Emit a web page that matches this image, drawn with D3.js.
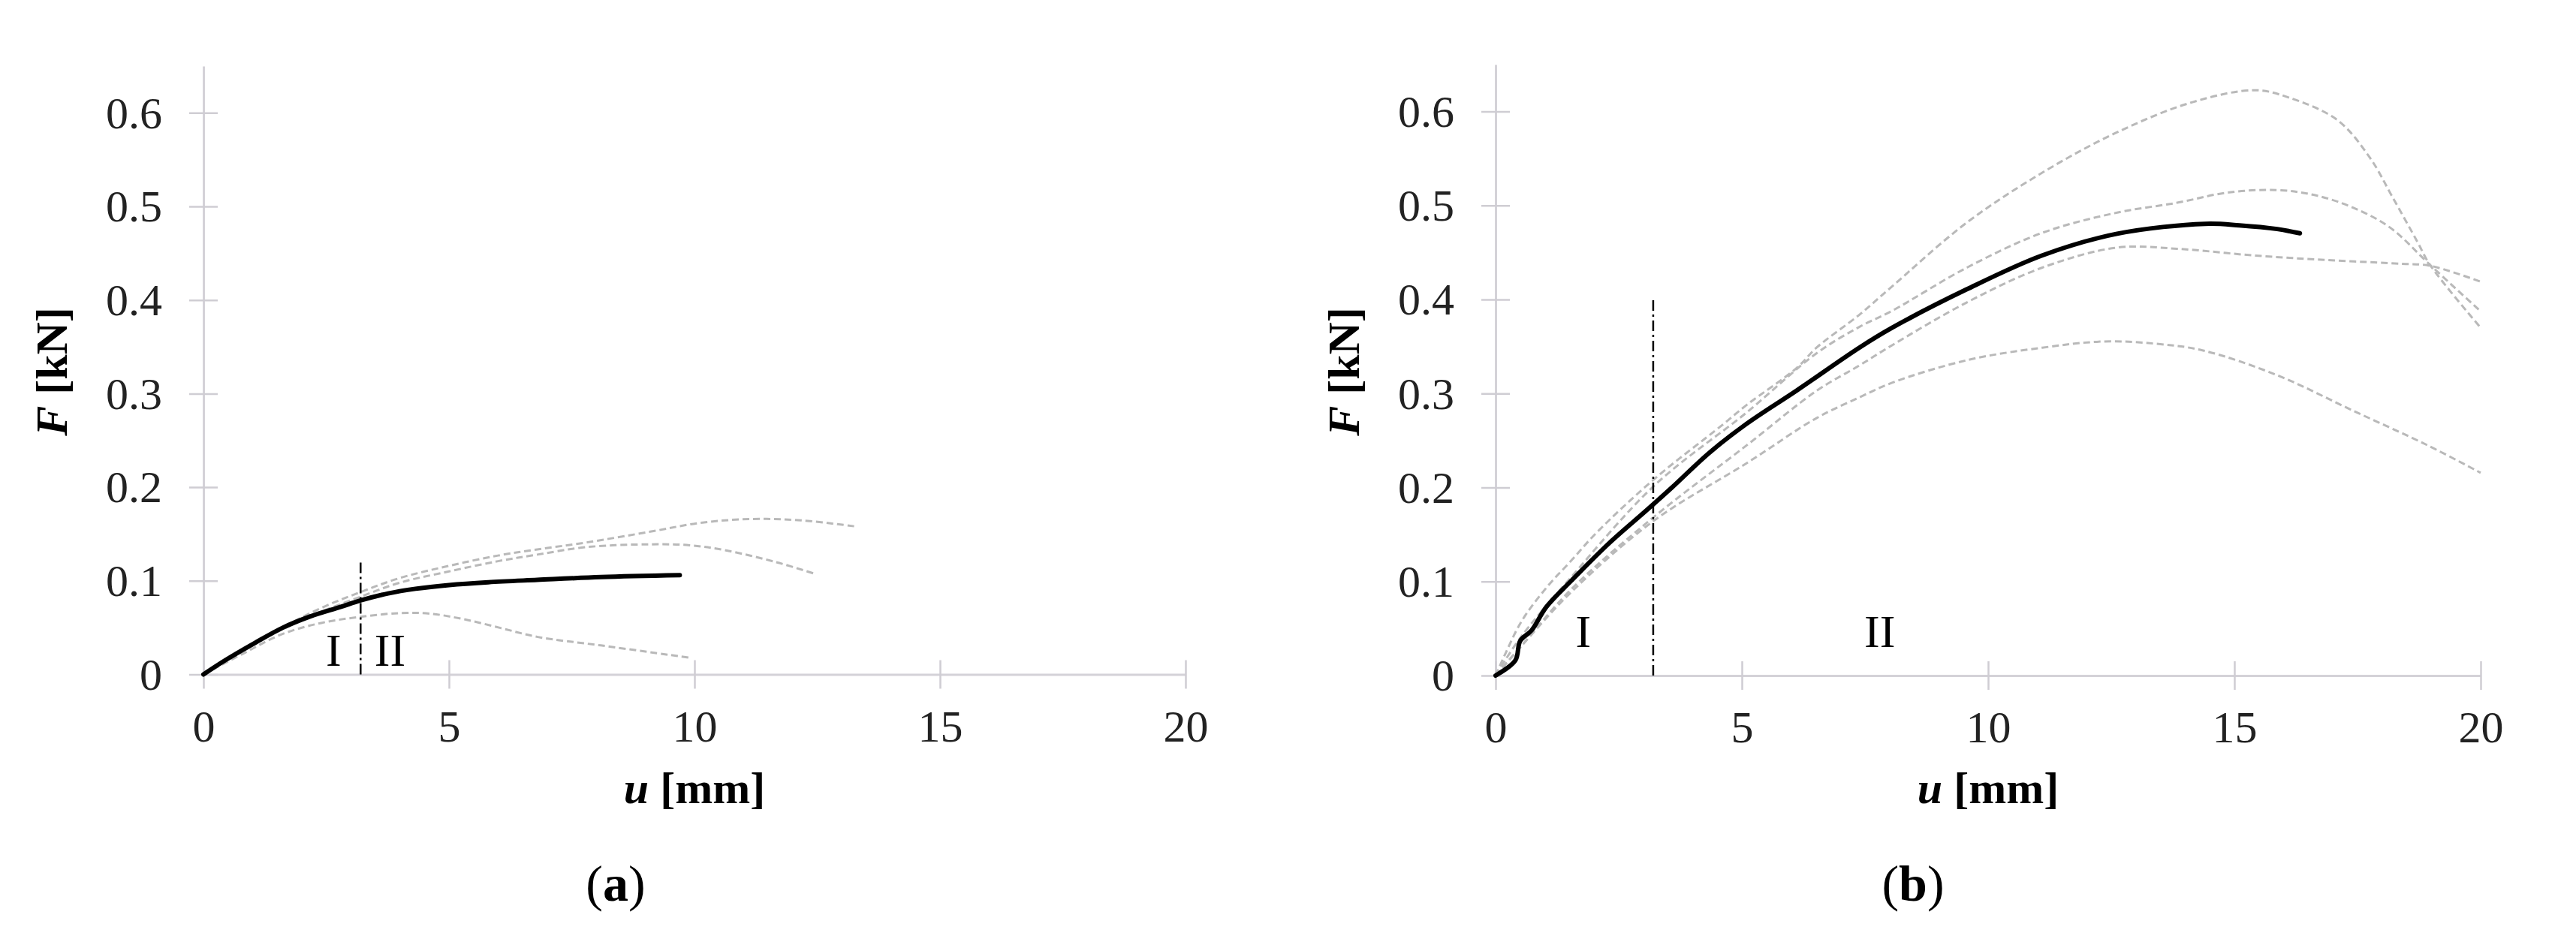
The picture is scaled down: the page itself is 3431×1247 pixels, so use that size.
<!DOCTYPE html>
<html>
<head>
<meta charset="utf-8">
<style>
    body {
        margin: 0;
        background: #fff;
    }

    svg {
        display: block;
        font-family: "Liberation Serif", "Times New Roman", serif;
    }

    .axis .domain {
        stroke: #d4d2d8;
        stroke-width: 3;
    }

    .axis .tick line {
        stroke: #cfcdd3;
        stroke-width: 2.5;
    }

    .axis .tick text {
        font-size: 60px;
        fill: #222;
        font-family: "Liberation Serif", "Times New Roman", serif;
    }

    .title {
        font-size: 60px;
        font-weight: bold;
    }

    .zone {
        font-size: 62px;
    }

    .tag {
        font-size: 68px;
    }

    .fit {
        fill: none;
        stroke: #b9b9b9;
        stroke-width: 3;
        stroke-dasharray: 9 5;
    }

    .test {
        fill: none;
        stroke: #000;
        stroke-width: 6;
        stroke-linejoin: round;
        stroke-linecap: round;
    }

    .split {
        stroke: #000;
        stroke-width: 2.5;
        stroke-dasharray: 14 5 3 5;
    }
</style>
</head>
<body>
<svg width="3431" height="1247"></svg>

<script src="https://cdn.jsdelivr.net/npm/d3@7"></script>
<script>
    // axis ticks
    let uTicks = [0, 5, 10, 15, 20];
    let uTickLabels = ["0", "5", "10", "15", "20"];
    let fTicks = [0, 0.1, 0.2, 0.3, 0.4, 0.5, 0.6];
    let fTickLabels = ["0", "0.1", "0.2", "0.3", "0.4", "0.5", "0.6"];

    // (a) measured curve and the three dashed curves, [u mm, F kN]
    let aMeasured = [[0, 0], [0.44, 0.015], [1.06, 0.034], [1.62, 0.05], [2.18, 0.062], [2.79, 0.072],
        [3.2, 0.079], [3.76, 0.0865], [4.32, 0.0915], [5.0, 0.0955], [5.8, 0.0985], [6.8, 0.101],
        [8.1, 0.104], [9.7, 0.106]];
    let aFitLow = [[0, 0], [0.8, 0.022], [1.6, 0.043], [2.4, 0.055], [3.2, 0.0615], [4.0, 0.0655],
        [4.6, 0.065], [5.3, 0.059], [6.05, 0.0496], [6.81, 0.04], [8.09, 0.031], [9.95, 0.0175]];
    let aFitMid = [[0, 0], [0.8, 0.026], [1.6, 0.048], [2.4, 0.067], [3.2, 0.083], [4.0, 0.098],
        [5.0, 0.11], [6.0, 0.121], [6.8, 0.128], [7.8, 0.136], [9.1, 0.139], [9.9, 0.138],
        [10.64, 0.1325], [11.66, 0.12], [12.42, 0.108]];
    let aFitHigh = [[0, 0], [0.8, 0.027], [1.6, 0.05], [2.4, 0.071], [3.2, 0.088], [4.0, 0.103],
        [5.0, 0.116], [6.0, 0.127], [6.8, 0.1335], [7.8, 0.141], [9.1, 0.1525], [10.13, 0.162],
        [11.15, 0.166], [12.17, 0.1646], [13.29, 0.158]];
    let aSplit = [3.2, 0.12];

    // (b)
    let bMeasured = [[0, 0], [0.4, 0.016], [0.5, 0.037], [0.73, 0.048], [1.03, 0.073], [1.54, 0.101],
        [2.31, 0.141], [3.07, 0.176], [3.58, 0.2], [4.34, 0.237], [5.1, 0.268], [6.12, 0.3035],
        [7.39, 0.349], [8.05, 0.37], [9.57, 0.411], [11.1, 0.447], [12.62, 0.47], [14.4, 0.4806],
        [15.1, 0.479], [15.87, 0.475], [16.33, 0.4705]];
    let bFit1 = [[0, 0], [0.17, 0.02], [0.53, 0.058], [1.04, 0.094], [1.54, 0.1225], [2.05, 0.152],
        [3.22, 0.209], [4.59, 0.266], [5.1, 0.288], [6.12, 0.3275], [6.52, 0.349], [7.39, 0.384],
        [8.05, 0.414], [9.57, 0.482], [11.1, 0.535], [12.62, 0.578], [14.15, 0.61], [15.42, 0.6227],
        [16.1, 0.615], [17.09, 0.591], [17.75, 0.551], [18.21, 0.509], [18.72, 0.461], [18.97, 0.437],
        [20, 0.37]];
    let bFit2 = [[0, 0], [0.5, 0.04], [1.54, 0.105], [3.22, 0.202], [5.1, 0.28], [6.52, 0.343],
        [7.39, 0.371], [8.05, 0.388], [9.57, 0.434], [11.1, 0.471], [12.62, 0.4925], [13.84, 0.503],
        [14.86, 0.5138], [15.87, 0.5165], [16.64, 0.511], [17.4, 0.498], [18.16, 0.4766],
        [18.97, 0.437], [20, 0.3874]];
    let bFit3 = [[0, 0], [0.5, 0.03], [1.54, 0.092], [3.22, 0.169], [5.1, 0.245], [6.52, 0.303],
        [7.39, 0.33], [8.05, 0.3514], [9.57, 0.397], [11.1, 0.434], [12.62, 0.4553], [13.84, 0.454],
        [15.37, 0.447], [16.89, 0.442], [18.41, 0.438], [18.97, 0.436], [20, 0.419]];
    let bFit4 = [[0, 0], [0.5, 0.03], [1.54, 0.089], [3.22, 0.165], [5.1, 0.226], [6.52, 0.274],
        [7.39, 0.296], [8.05, 0.3115], [9.57, 0.3355], [11.1, 0.3488], [12.35, 0.3554], [13.4, 0.353],
        [14.35, 0.346], [15.87, 0.3195], [17.4, 0.282], [18.92, 0.245], [20, 0.2157]];
    let bSplit = [3.2, 0.4];

    let svg = d3.select("svg");

    let panels = [
        {
            left: 271, right: 1579, bottom: 898.5, top: 87.9,
            measured: aMeasured, fits: [aFitLow, aFitMid, aFitHigh], split: aSplit,
            zones: [["I", 2.65, 0.0092], ["II", 3.8, 0.0092]],
            tag: "a", tagX: 820
        },
        {
            left: 1992, right: 3304, bottom: 900, top: 86,
            measured: bMeasured, fits: [bFit1, bFit2, bFit3, bFit4], split: bSplit,
            zones: [["I", 1.78, 0.03], ["II", 7.8, 0.03]],
            tag: "b", tagX: 2548
        }
    ];

    panels.forEach(p => {
        let x = d3.scaleLinear()
            .domain([0, 20])
            .range([p.left, p.right]);

        let y = d3.scaleLinear()
            .domain([0, 0.65])
            .range([p.bottom, p.top]);

        let g = svg.append("g");

        // y axis, ticks cross the axis line
        g.append("g")
            .attr("class", "y axis")
            .attr("transform", `translate(${p.left},0)`)
            .call(d3.axisLeft(y)
                .tickValues(fTicks)
                .tickFormat((d, i) => fTickLabels[i])
                .tickSizeInner(19)
                .tickSizeOuter(0)
                .tickPadding(36))
            .call(a => a.selectAll(".tick line").attr("x1", 19))
            .call(a => a.selectAll(".tick text").attr("dy", "0.33em"));

        g.append("g")
            .attr("class", "x axis")
            .attr("transform", `translate(0,${p.bottom})`)
            .call(d3.axisBottom(x)
                .tickValues(uTicks)
                .tickFormat((d, i) => uTickLabels[i])
                .tickSizeInner(19)
                .tickSizeOuter(0))
            .call(a => a.selectAll(".tick line").attr("y1", -19))
            .call(a => a.selectAll(".tick text").attr("y", 89).attr("dy", null));

        let line = d3.line()
            .x(d => x(d[0]))
            .y(d => y(d[1]))
            .curve(d3.curveCatmullRom.alpha(0.5));

        g.selectAll(".fit")
            .data(p.fits)
            .join("path")
            .attr("class", "fit")
            .attr("d", line);

        g.append("path")
            .datum(p.measured)
            .attr("class", "test")
            .attr("d", line);

        // boundary between zone I and II
        g.append("line")
            .attr("class", "split")
            .attr("x1", x(p.split[0]))
            .attr("x2", x(p.split[0]))
            .attr("y1", y(0))
            .attr("y2", y(p.split[1]));

        g.selectAll(".zone")
            .data(p.zones)
            .join("text")
            .attr("class", "zone")
            .attr("x", d => x(d[1]))
            .attr("y", d => y(d[2]))
            .attr("text-anchor", "middle")
            .text(d => d[0]);

        // axis titles
        let yt = g.append("text")
            .attr("class", "title")
            .attr("text-anchor", "middle")
            .attr("transform", `translate(${p.left - 182},495) rotate(-90)`);
        yt.append("tspan").attr("font-style", "italic").text("F");
        yt.append("tspan").text(" [kN]");

        let xt = g.append("text")
            .attr("class", "title")
            .attr("text-anchor", "middle")
            .attr("x", (p.left + p.right) / 2)
            .attr("y", 1070);
        xt.append("tspan").attr("font-style", "italic").text("u");
        xt.append("tspan").text(" [mm]");

        let tag = g.append("text")
            .attr("class", "tag")
            .attr("text-anchor", "middle")
            .attr("x", p.tagX)
            .attr("y", 1200);
        tag.append("tspan").text("(");
        tag.append("tspan").attr("font-weight", "bold").text(p.tag);
        tag.append("tspan").text(")");
    });
</script>
</body>
</html>
